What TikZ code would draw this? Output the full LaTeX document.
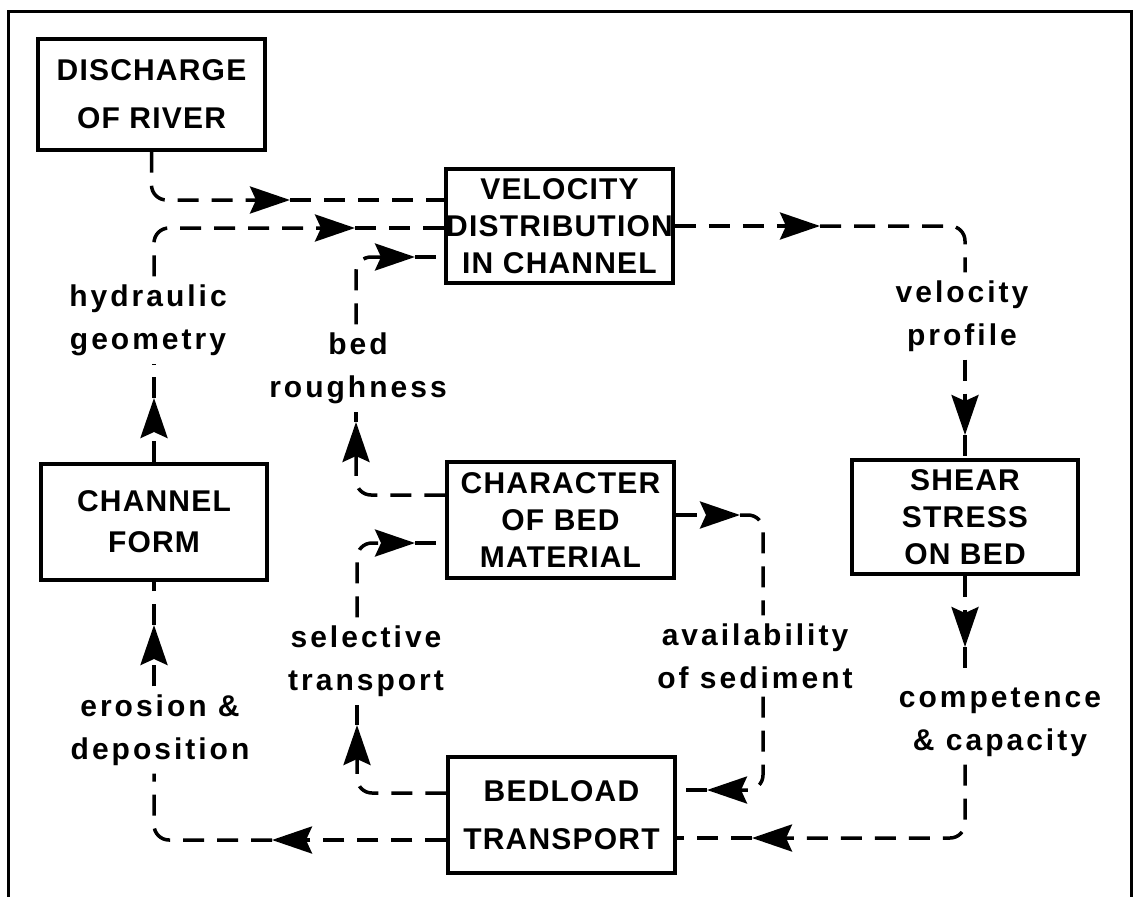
\documentclass[tikz,border=0pt]{standalone}
\usepackage{fontspec}
\setmainfont{Liberation Sans}
\newfontfamily\boxfont{Liberation Sans}[LetterSpace=4]
\newfontfamily\labfont{Liberation Sans}[LetterSpace=10]
\usetikzlibrary{arrows.meta}
\begin{document}
\begin{tikzpicture}[x=1pt,y=-1pt,
  box/.style={draw, line width=3.5pt, minimum width=227pt, inner sep=0pt, align=center},
  bf3/.style={font=\boxfont\bfseries\fontsize{30}{37}\selectfont},
  bf2/.style={font=\boxfont\bfseries\fontsize{30}{48}\selectfont},
  lab/.style={align=center, inner sep=8pt, font=\labfont\bfseries\fontsize{30}{43}\selectfont},
  conn/.style={line width=3.5pt, dash pattern=on 21pt off 13pt},
  arr/.style={-{Stealth[length=40pt,width=27pt,inset=6pt]}},
  rc/.style={rounded corners=15pt}]
\useasboundingbox (0,0) rectangle (1134,896);
\fill[white] (0,0) rectangle (1134,896);
\draw[line width=3pt] (8,900) -- (8,12) -- (1131,12) -- (1131,900);

% boxes
\node[box, bf2, minimum height=111pt] (dis) at (151.5,94.5) {DISCHARGE\\OF RIVER};
\node[box, bf3, minimum height=114pt] (vel) at (559.5,226) {VELOCITY\\DISTRIBUTION\\IN CHANNEL};
\node[box, bf3, minimum height=114pt, minimum width=226pt] (shr) at (965,517) {SHEAR\\STRESS\\ON BED};
\node[box, font=\boxfont\bfseries\fontsize{30}{41}\selectfont, minimum height=116pt, minimum width=226pt] (chf) at (154,522) {CHANNEL\\FORM};
\node[box, bf3, minimum height=116pt] (chr) at (560.5,520) {CHARACTER\\OF BED\\MATERIAL};
\node[box, bf2, minimum height=116pt] (bed) at (561.5,815) {BEDLOAD\\TRANSPORT};

% labels
\node[lab] (hg) at (148,320) {hydraulic\\geometry};
\node[lab] (br) at (358,368) {bed\\roughness};
\node[lab] (vp) at (962,316) {velocity\\profile};
\node[lab] (cc) at (1000,722) {competence\\\& capacity};
\node[lab] (as) at (755,656) {availability\\of sediment};
\node[lab] (st) at (366,661) {selective\\transport};
\node[lab] (ed) at (160,730) {erosion \&\\deposition};

% C1 discharge -> velocity
\coordinate (t1) at (290,200);
\draw[conn,rc,arr] (dis.south) |- (t1);
\draw[conn] (t1) -- (vel.west |- t1);

% C2 channel form -> velocity
\coordinate (t2a) at (154,398);
\coordinate (t2b) at (355,228);
\draw[conn,arr] (chf.north) -- (t2a);
\draw[conn] (t2a) -- (t2a |- hg.south);
\draw[conn,rc,arr] (t2a |- hg.north) |- (t2b);
\draw[conn] (t2b) -- (vel.west |- t2b);

% C3 character -> velocity
\coordinate (t3a) at (356,422);
\coordinate (t3b) at (415,257);
\draw[conn,rc,arr] ([yshift=25pt]chr.west) -| (t3a);
\draw[conn] (t3a) -- (t3a |- br.south);
\draw[conn,rc,arr] (t3a |- br.north) |- (t3b);
\draw[conn] (t3b) -- (vel.west |- t3b);

% C4 velocity -> shear
\coordinate (t4a) at (820,226);
\coordinate (t4b) at (965,435);
\draw[conn,arr] (vel.east) -- (t4a);
\draw[conn,rc] (t4a) -| (t4b |- vp.north);
\draw[conn,arr] (t4b |- vp.south) -- (t4b);
\draw[conn] (t4b) -- (shr.north);

% C5 shear -> bedload
\coordinate (t5a) at (965,647);
\coordinate (t5b) at (752,838);
\draw[conn,arr] (shr.south) -- (t5a);
\draw[conn] (t5a) -- (t5a |- cc.north);
\draw[conn,rc,arr] (t5a |- cc.south) |- (t5b);
\draw[conn] (t5b) -- (bed.east |- t5b);

% C6 character -> bedload
\coordinate (t6a) at (740,515);
\coordinate (t6b) at (707,790);
\coordinate (c6) at (763,660);
\draw[conn,arr] ([yshift=5pt]chr.east) -- (t6a);
\draw[conn,rc] (t6a) -| (c6 |- as.north);
\draw[conn,rc,arr] (c6 |- as.south) |- (t6b);
\draw[conn] (t6b) -- (bed.east |- t6b);

% C7 bedload -> character
\coordinate (t7a) at (357,725);
\coordinate (t7b) at (415,543);
\draw[conn,rc,arr] ([yshift=22pt]bed.west) -| (t7a);
\draw[conn] (t7a) -- (t7a |- st.south);
\draw[conn,rc,arr] (t7a |- st.north) |- (t7b);
\draw[conn] (t7b) -- (chr.west |- t7b);

% C8 bedload -> channel form
\coordinate (t8a) at (272,840);
\coordinate (t8b) at (154,625);
\draw[conn,arr] ([yshift=-25pt]bed.west) -- (t8a);
\draw[conn,rc] (t8a) -| (t8b |- ed.south);
\draw[conn,arr] (t8b |- ed.north) -- (t8b);
\draw[conn] (t8b) -- (chf.south);
\end{tikzpicture}
\end{document}
